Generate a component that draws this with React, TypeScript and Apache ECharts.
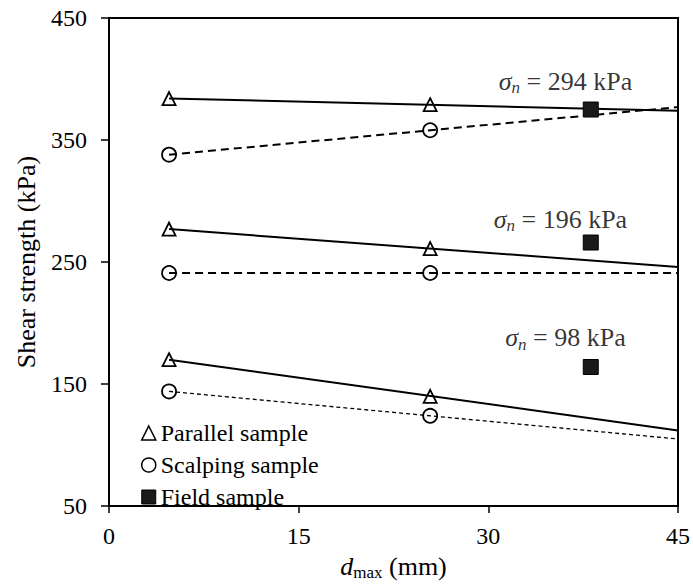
import React, { useEffect, useRef } from "react";
import * as echarts from "echarts";

// ---- data ----
const sampleX = [4.75, 25.4];
const fieldX = 38.1;
const trendX = [4.75, 45];
const xTicks = [0, 15, 30, 45];
const yTicks = [50, 150, 250, 350, 450];

const stressLabels = ["294", "196", "98"];
const parallel294 = [384, 379];
const parallel196 = [277, 261];
const parallel98 = [170, 140];
const scalping294 = [338, 358];
const scalping196 = [241, 241];
const scalping98 = [144, 124];
const fieldValues = [375, 266, 164];
const trendParallelEnd = [374, 246, 112];
const trendScalpingEnd = [377, 241, 105];
const labelX = [36.1, 35.7, 36.1];
const labelY = [398, 285, 188];

const FONT = "Liberation Serif";

export default function App() {
  const ref = useRef<HTMLDivElement>(null);
  useEffect(() => {
    document.body.style.margin = "0";
    if (!ref.current) return;
    const chart = echarts.init(ref.current, undefined, { renderer: "svg" });

    const parallelSets = [parallel294, parallel196, parallel98];
    const scalpingSets = [scalping294, scalping196, scalping98];

    const parallelPoints: number[][] = [];
    parallelSets.forEach((s) => s.forEach((v, i) => parallelPoints.push([sampleX[i], v])));
    const scalpingPoints: number[][] = [];
    scalpingSets.forEach((s) => s.forEach((v, i) => scalpingPoints.push([sampleX[i], v])));
    const fieldPoints = fieldValues.map((v) => [fieldX, v]);

    const trendSeries: any[] = [];
    parallelSets.forEach((s, k) => {
      trendSeries.push({
        type: "line",
        data: [
          [trendX[0], s[0]],
          [trendX[1], trendParallelEnd[k]],
        ],
        symbol: "none",
        silent: true,
        z: 1,
        lineStyle: { color: "#000", width: 2, type: "solid" },
      });
    });
    scalpingSets.forEach((s, k) => {
      trendSeries.push({
        type: "line",
        data: [
          [trendX[0], s[0]],
          [trendX[1], trendScalpingEnd[k]],
        ],
        symbol: "none",
        silent: true,
        z: 1,
        lineStyle:
          k === 2
            ? { color: "#000", width: 1.3, type: [4, 3] }
            : { color: "#000", width: 2, type: [8, 5] },
      });
    });

    const labelSeries = {
      type: "scatter",
      data: stressLabels.map((s, i) => ({ value: [labelX[i], labelY[i]], stress: s })),
      symbolSize: 1,
      itemStyle: { color: "rgba(0,0,0,0)" },
      silent: true,
      z: 5,
      label: {
        show: true,
        position: "inside",
        formatter: (p: any) => `{s|σ}{n|n}{t| = ${p.data.stress} kPa}`,
        rich: {
          s: { fontFamily: FONT, fontStyle: "italic", fontSize: 26, lineHeight: 30, color: "#000" },
          n: { fontFamily: FONT, fontStyle: "italic", fontSize: 17, lineHeight: 14, verticalAlign: "bottom", color: "#000" },
          t: { fontFamily: FONT, fontSize: 26, lineHeight: 30, color: "#000" },
        },
      },
    };

    const option: any = {
      animation: false,
      backgroundColor: "#fff",
      textStyle: { fontFamily: FONT },
      grid: {
        left: 109,
        right: 15,
        top: 18,
        bottom: 66,
        show: true,
        borderColor: "#000",
        borderWidth: 2,
        containLabel: false,
      },
      legend: {
        orient: "vertical",
        left: 141,
        top: 420,
        padding: 0,
        itemWidth: 14,
        itemHeight: 14,
        itemGap: 6,
        selectedMode: false,
        textStyle: { fontFamily: FONT, fontSize: 24, lineHeight: 26, color: "#000" },
        data: [
          {
            name: "Parallel sample",
            icon: "triangle",
            itemStyle: { color: "#fff", borderColor: "#000", borderWidth: 1.5, opacity: 1 },
          },
          {
            name: "Scalping sample",
            icon: "circle",
            itemStyle: { color: "#fff", borderColor: "#000", borderWidth: 1.5, opacity: 1 },
          },
          {
            name: "Field sample",
            icon: "rect",
            itemStyle: { color: "#1a1a1a", borderColor: "#000", borderWidth: 1, opacity: 1 },
          },
        ],
      },
      xAxis: {
        type: "value",
        min: xTicks[0],
        max: xTicks[xTicks.length - 1],
        interval: xTicks[1] - xTicks[0],
        splitLine: { show: false },
        axisLine: { show: true, onZero: false, lineStyle: { color: "#000", width: 2 } },
        axisTick: { show: true, inside: false, length: 7, lineStyle: { color: "#000", width: 1.5 } },
        axisLabel: { fontFamily: FONT, fontSize: 24, color: "#000", margin: 18 },
        name: "{d|d}{m|max}{t| (mm)}",
        nameLocation: "middle",
        nameGap: 31,
        nameTextStyle: {
          rich: {
            d: { fontFamily: FONT, fontStyle: "italic", fontSize: 26, lineHeight: 30, color: "#000" },
            m: { fontFamily: FONT, fontSize: 17, lineHeight: 14, verticalAlign: "bottom", color: "#000" },
            t: { fontFamily: FONT, fontSize: 26, lineHeight: 30, color: "#000" },
          },
        },
      },
      yAxis: {
        type: "value",
        min: yTicks[0],
        max: yTicks[yTicks.length - 1],
        interval: yTicks[1] - yTicks[0],
        splitLine: { show: false },
        axisLine: { show: true, onZero: false, lineStyle: { color: "#000", width: 2 } },
        axisTick: { show: true, inside: false, length: 8, lineStyle: { color: "#000", width: 1.5 } },
        axisLabel: { fontFamily: FONT, fontSize: 24, color: "#000", margin: 22 },
        name: "Shear strength (kPa)",
        nameLocation: "middle",
        nameGap: 70,
        nameTextStyle: { fontFamily: FONT, fontSize: 26, color: "#000" },
      },
      series: [
        ...trendSeries,
        {
          name: "Parallel sample",
          type: "scatter",
          data: parallelPoints,
          symbol: "triangle",
          symbolSize: 13,
          z: 3,
          itemStyle: { color: "rgba(0,0,0,0)", borderColor: "#000", borderWidth: 1.8, opacity: 1 },
        },
        {
          name: "Scalping sample",
          type: "scatter",
          data: scalpingPoints,
          symbol: "circle",
          symbolSize: 14,
          z: 3,
          itemStyle: { color: "rgba(0,0,0,0)", borderColor: "#000", borderWidth: 1.8, opacity: 1 },
        },
        {
          name: "Field sample",
          type: "scatter",
          data: fieldPoints,
          symbol: "rect",
          symbolSize: 15,
          z: 4,
          itemStyle: { color: "#1a1a1a", borderColor: "#000", borderWidth: 1, opacity: 1 },
        },
        labelSeries,
      ],
    };

    chart.setOption(option);
    return () => chart.dispose();
  }, []);

  return <div ref={ref} style={{ width: 693, height: 586 }} />;
}
